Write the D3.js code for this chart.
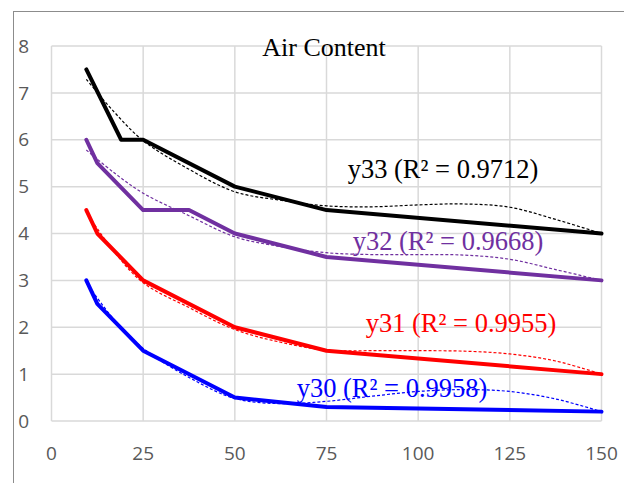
<!DOCTYPE html>
<html>
<head>
<meta charset="utf-8">
<script src="https://cdn.jsdelivr.net/npm/d3@7"></script>
<style>
  html, body { margin: 0; padding: 0; background: #fff; }
  svg { display: block; }
</style>
</head>
<body>
<svg id="chart"></svg>
<script>
// series data
const seriesNames = ["y30", "y31", "y32", "y33"];
const r2Values = ["0.9958", "0.9955", "0.9668", "0.9712"];

const y30X = [9.5, 12.5, 25, 50, 75, 150];
const y30Y = [3, 2.5, 1.5, 0.5, 0.3, 0.2];
const y31X = [9.5, 12.5, 25, 50, 75, 150];
const y31Y = [4.5, 4, 3, 2, 1.5, 1];
const y32X = [9.5, 12.5, 25, 37.5, 50, 75, 150];
const y32Y = [6, 5.5, 4.5, 4.5, 4, 3.5, 3];
const y33X = [9.5, 19, 25, 50, 75, 150];
const y33Y = [7.5, 6, 6, 5, 4.5, 4];

// trendlines (dashed)
const trendX = [9.5, 17, 25, 37.5, 50, 62.5, 75, 87.5, 100, 112.5, 125, 137.5, 150];
const y30Trend = [2.95, 2.17, 1.55, 0.93, 0.48, 0.37, 0.42, 0.53, 0.63, 0.67, 0.63, 0.47, 0.2];
const y31Trend = [4.45, 3.62, 2.95, 2.42, 1.95, 1.68, 1.51, 1.5, 1.5, 1.49, 1.43, 1.28, 1.0];
const y32Trend = [5.78, 5.3, 4.86, 4.38, 3.93, 3.72, 3.59, 3.55, 3.55, 3.54, 3.45, 3.23, 3.0];
const y33Trend = [7.29, 6.6, 5.98, 5.37, 4.89, 4.71, 4.59, 4.57, 4.61, 4.63, 4.56, 4.3, 4.0];

const xTicks = [0, 25, 50, 75, 100, 125, 150];
const yTicks = [0, 1, 2, 3, 4, 5, 6, 7, 8];
const chartTitle = "Air Content";

const width = 624, height = 483;
const colors = ["#0000FF", "#FF0000", "#7030A0", "#000000"];
// label anchor points (pixel centre, baseline)
const labelPos = [[392, 397], [461, 332], [448, 250], [443, 178]];

const svg = d3.select("#chart").attr("width", width).attr("height", height);

const x = d3.scaleLinear().domain([0, 150]).range([51.5, 601.5]);
const y = d3.scaleLinear().domain([0, 8]).range([421, 46]);

// outer chart frame (only top and left edges are in view)
svg.append("rect")
    .attr("x", 13.5).attr("y", 11.5)
    .attr("width", 700).attr("height", 600)
    .attr("fill", "none")
    .attr("stroke", "#8c8c8c")
    .attr("stroke-width", 1);

// gridlines
svg.append("g").selectAll("line").data(yTicks).join("line")
    .attr("x1", x(0)).attr("x2", x(150))
    .attr("y1", d => y(d)).attr("y2", d => y(d))
    .attr("stroke", "#d9d9d9").attr("stroke-width", 1.5);
svg.append("g").selectAll("line").data(xTicks).join("line")
    .attr("x1", d => x(d)).attr("x2", d => x(d))
    .attr("y1", y(0)).attr("y2", y(8))
    .attr("stroke", "#d9d9d9").attr("stroke-width", 1.5);

// tick labels
svg.append("g").selectAll("text").data(yTicks).join("text")
    .attr("x", 29).attr("y", d => y(d))
    .attr("dy", "0.35em")
    .attr("text-anchor", "end")
    .style("font-family", "'Open Sans', sans-serif")
    .style("font-size", "19px")
    .style("fill", "#595959")
    .text(d => d);
svg.append("g").selectAll("text").data(xTicks).join("text")
    .attr("x", d => x(d)).attr("y", 453)
    .attr("dy", "0.35em")
    .attr("text-anchor", "middle")
    .style("font-family", "'Open Sans', sans-serif")
    .style("font-size", "19px")
    .style("fill", "#595959")
    .text(d => d);

// title
svg.append("text")
    .attr("x", 324).attr("y", 56)
    .attr("text-anchor", "middle")
    .style("font-family", "'Liberation Serif', 'Times New Roman', serif")
    .style("font-size", "26px")
    .style("fill", "#000")
    .text(chartTitle);

const allX = [y30X, y31X, y32X, y33X];
const allY = [y30Y, y31Y, y32Y, y33Y];
const allTrend = [y30Trend, y31Trend, y32Trend, y33Trend];

const line = d3.line().x(d => x(d[0])).y(d => y(d[1]));
const trendLine = d3.line().x(d => x(d[0])).y(d => y(d[1])).curve(d3.curveCatmullRom.alpha(0.5));

// solid series lines
allX.forEach((xs, i) => {
    svg.append("path")
        .datum(xs.map((v, j) => [v, allY[i][j]]))
        .attr("d", line)
        .attr("fill", "none")
        .attr("stroke", colors[i])
        .attr("stroke-width", 4)
        .attr("stroke-linejoin", "round")
        .attr("stroke-linecap", "round");
});

// dashed trendlines on top
allTrend.forEach((ts, i) => {
    svg.append("path")
        .datum(trendX.map((v, j) => [v, ts[j]]))
        .attr("d", trendLine)
        .attr("fill", "none")
        .attr("stroke", colors[i])
        .attr("stroke-width", 1.2)
        .attr("stroke-dasharray", "3,2");
});

// trendline labels
seriesNames.forEach((name, i) => {
    svg.append("text")
        .attr("x", labelPos[i][0]).attr("y", labelPos[i][1])
        .attr("text-anchor", "middle")
        .style("font-family", "'Liberation Serif', 'Times New Roman', serif")
        .style("font-size", "26.5px")
        .style("fill", colors[i])
        .text(`${name} (R² = ${r2Values[i]})`);
});
</script>
</body>
</html>
